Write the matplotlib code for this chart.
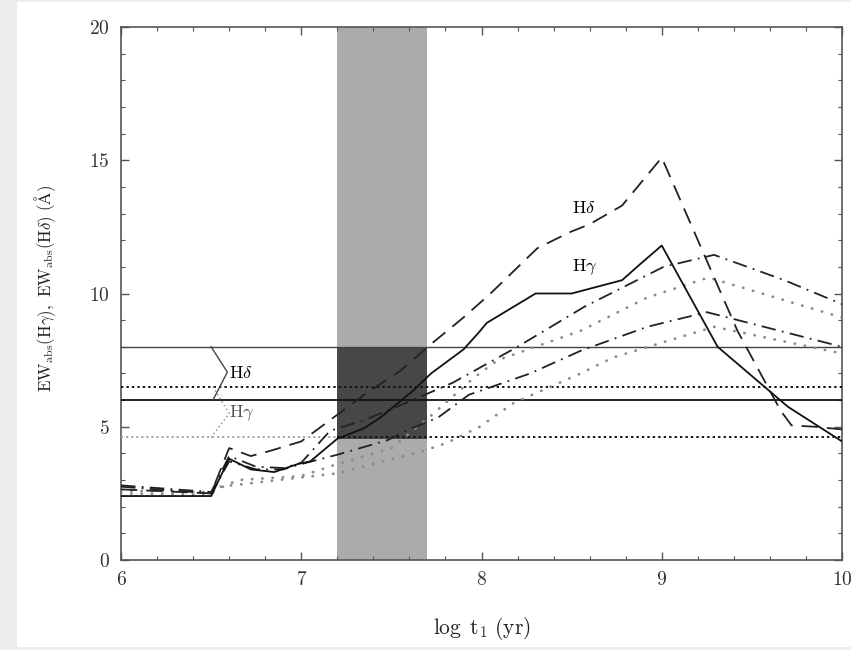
import matplotlib
matplotlib.use("Agg")
import matplotlib.pyplot as plt
from matplotlib.ticker import MultipleLocator, FuncFormatter
from matplotlib.patches import Rectangle

plt.rcParams['mathtext.fontset'] = 'cm'
plt.rcParams['font.family'] = ['DejaVu Serif']

# ---- data ----
solid_x = [6.0, 6.5, 6.6, 6.72, 6.85, 6.98, 7.05, 7.2, 7.35, 7.44, 7.62, 7.72, 7.81, 7.9, 7.98, 8.03,
           8.3, 8.5, 8.78, 8.88, 9.0, 9.31, 9.57, 9.7, 10.0]
solid_y = [2.4, 2.4, 3.8, 3.4, 3.3, 3.6, 3.7, 4.55, 4.95, 5.35, 6.35, 7.0, 7.45, 7.9, 8.5, 8.9,
           10.0, 10.0, 10.5, 11.1, 11.8, 8.0, 6.5, 5.75, 4.45]

dash_x = [6.0, 6.5, 6.6, 6.72, 6.83, 7.0, 7.18, 7.36, 7.55, 7.72, 7.9, 8.05, 8.31, 8.49, 8.6, 8.78,
          9.0, 9.42, 9.66, 9.72, 9.85, 10.0]
dash_y = [2.65, 2.5, 4.2, 3.9, 4.1, 4.45, 5.35, 6.25, 7.1, 8.1, 9.1, 10.0, 11.7, 12.3, 12.6, 13.3,
          15.1, 8.6, 5.6, 5.05, 5.0, 4.9]

dd_up_x = [6.0, 6.5, 6.6, 6.75, 6.9, 7.0, 7.16, 7.35, 7.53, 7.72, 7.84, 8.2, 8.57, 9.01, 9.29, 9.68, 10.0]
dd_up_y = [2.8, 2.55, 3.9, 3.5, 3.45, 3.65, 4.85, 5.25, 5.75, 6.3, 6.65, 8.0, 9.5, 11.0, 11.45, 10.5, 9.6]

dd_lo_x = [6.0, 6.5, 6.6, 6.75, 6.9, 7.0, 7.2, 7.48, 7.6, 7.76, 7.93, 8.27, 8.55, 8.92, 9.25, 10.0]
dd_lo_y = [2.75, 2.5, 3.7, 3.4, 3.4, 3.6, 3.95, 4.5, 4.9, 5.35, 6.2, 7.0, 7.85, 8.75, 9.3, 8.0]

dot_up_x = [6.0, 6.5, 6.65, 7.0, 7.2, 7.5, 7.7, 7.96, 8.09, 8.55, 8.92, 9.26, 10.0]
dot_up_y = [2.6, 2.55, 3.0, 3.15, 3.6, 4.2, 5.3, 6.85, 7.5, 8.6, 9.85, 10.6, 9.1]

dot_lo_x = [6.0, 6.5, 6.55, 7.0, 7.2, 7.68, 7.81, 7.99, 8.18, 8.55, 8.73, 9.29, 10.0]
dot_lo_y = [2.5, 2.45, 2.75, 3.1, 3.25, 4.1, 4.4, 5.0, 5.9, 7.0, 7.6, 8.75, 7.75]

band_x = [7.2, 7.7]
hdelta_range = [6.0, 8.0]
hgamma_range = [4.6, 6.5]

hd_bracket_x = [6.5, 6.59, 6.51]
hd_bracket_y = [8.0, 7.05, 6.0]
hg_bracket_x = [6.51, 6.6, 6.5]
hg_bracket_y = [6.5, 5.5, 4.6]

# ---- figure ----
fig = plt.figure(figsize=(8.51, 6.50), dpi=100, facecolor='#ececec')
fig.patches.append(Rectangle((17/851, 3/650), 1 - 17/851, 1 - 5/650,
                             transform=fig.transFigure, facecolor='white',
                             edgecolor='none', zorder=-10))
ax = fig.add_axes([121/851, 1 - 560/650, (842 - 121)/851, (560 - 27)/650])

ax.set_xlim(6, 10)
ax.set_ylim(0, 20)

# shaded band and dark overlap
ax.axvspan(band_x[0], band_x[1], color='#ababab', lw=0, zorder=0)
ax.fill_between(band_x, [4.55, 4.55], [hdelta_range[1], hdelta_range[1]],
                color='#474747', lw=0, zorder=0.5)

# horizontal range lines
ax.axhline(hdelta_range[1], color='#444444', lw=1.0, zorder=3)
ax.axhline(hdelta_range[0], color='#111111', lw=1.3, zorder=3)
ax.axhline(hgamma_range[1], color='#111111', lw=1.4, ls=(0, (1.2, 1.6)), zorder=3)
ax.plot([6.0, 7.2], [hgamma_range[0]] * 2, color='#a0a0a0', lw=1.3, ls=(0, (1.2, 1.6)), zorder=3)
ax.plot([7.2, 10.0], [hgamma_range[0]] * 2, color='#111111', lw=1.4, ls=(0, (1.2, 1.6)), zorder=3)

# brackets
ax.plot(hd_bracket_x, hd_bracket_y, color='#444444', lw=1.0, zorder=3)
ax.plot(hg_bracket_x, hg_bracket_y, color='#999999', lw=1.1, ls=(0, (1, 1.8)), zorder=3)

# curves
ax.plot(dot_lo_x, dot_lo_y, color='#8a8a8a', lw=2.0, ls=(0, (0.1, 3.6)),
        dash_capstyle='round', solid_capstyle='round', zorder=4)
ax.plot(dot_up_x, dot_up_y, color='#8a8a8a', lw=2.0, ls=(0, (0.1, 3.6)),
        dash_capstyle='round', solid_capstyle='round', zorder=4)
ax.plot(dd_lo_x, dd_lo_y, color='#222222', lw=1.3, ls=(0, (8, 3.5, 1, 3.5)), zorder=5)
ax.plot(dd_up_x, dd_up_y, color='#222222', lw=1.3, ls=(0, (8, 3.5, 1, 3.5)), zorder=5)
ax.plot(dash_x, dash_y, color='#222222', lw=1.3, ls=(0, (9, 5)), zorder=5)
ax.plot(solid_x, solid_y, color='#111111', lw=1.3, zorder=6)

# labels on curves
ax.text(8.57, 13.2, r'$\mathrm{H}\delta$', fontsize=13, ha='center', va='center', zorder=7)
ax.text(8.57, 11.0, r'$\mathrm{H}\gamma$', fontsize=13, ha='center', va='center', zorder=7)
ax.text(6.6, 7.0, r'$\mathrm{H}\delta$', fontsize=13, ha='left', va='center', zorder=7)
ax.text(6.6, 5.5, r'$\mathrm{H}\gamma$', fontsize=13, ha='left', va='center', color='#555555', zorder=7)

# axes styling
for s in ax.spines.values():
    s.set_color('#555555')
    s.set_linewidth(1.2)
ax.xaxis.set_major_locator(MultipleLocator(1))
ax.xaxis.set_minor_locator(MultipleLocator(0.2))
ax.yaxis.set_major_locator(MultipleLocator(5))
ax.yaxis.set_minor_locator(MultipleLocator(1))
ax.tick_params(which='both', direction='in', top=True, right=True, color='#555555')
ax.tick_params(which='major', length=6, width=1.0, labelsize=14, pad=8)
ax.tick_params(which='minor', length=3, width=0.8)
ax.xaxis.set_major_formatter(FuncFormatter(lambda v, p: r'$%d$' % round(v)))
ax.yaxis.set_major_formatter(FuncFormatter(lambda v, p: r'$%d$' % round(v)))
for t in ax.get_xticklabels() + ax.get_yticklabels():
    t.set_color('#333333')

ax.set_xlabel(r'$\log\ \mathrm{t_1\ (yr)}$', fontsize=15.5, color='#222222')
ax.xaxis.set_label_coords(0.5, -(628 - 560) / 533, transform=ax.transAxes)
ax.xaxis.label.set_va('center')
ax.set_ylabel(r'$\mathrm{EW_{abs}(H\gamma),\ EW_{abs}(H\delta)\ (\AA)}$', fontsize=12.2,
              color='#222222')
ax.yaxis.set_label_coords(-(121 - 45) / 721, (560 - 288) / 533, transform=ax.transAxes)
ax.yaxis.label.set_va('center')

fig.savefig('out.png', dpi=100, facecolor=fig.get_facecolor())
